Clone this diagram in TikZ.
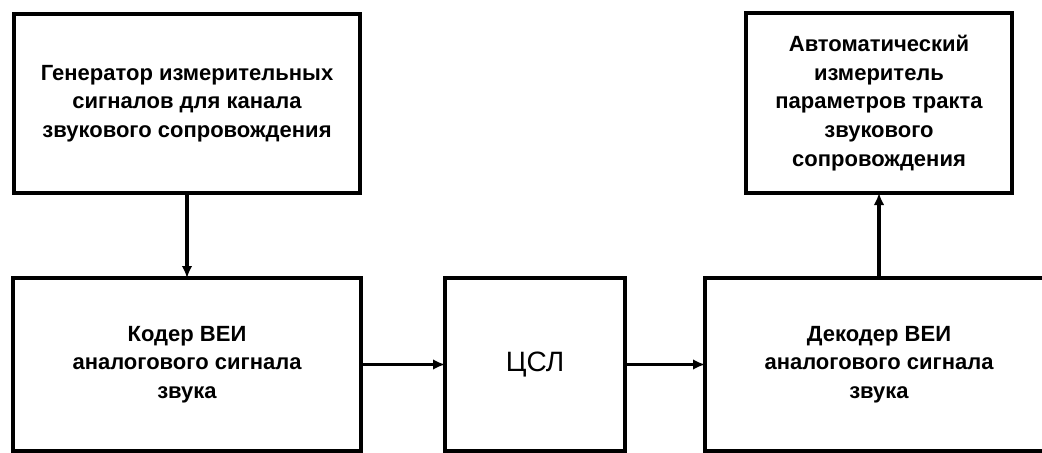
\documentclass[tikz,border=0pt]{standalone}
\usepackage{fontspec}
\setmainfont{Liberation Sans}
\usetikzlibrary{arrows.meta,positioning}

\begin{document}
\begin{tikzpicture}[x=0.75pt,y=-0.75pt,node distance=63.75pt and 63pt,
  box/.style={draw,line width=3pt,outer sep=0pt,align=center,font=\bfseries\fontsize{16.5}{21.5}\selectfont},
  link/.style={->,line width=2.6pt},
  >={Latex[length=9pt,width=8pt]}]
\useasboundingbox (0,0) rectangle (1042,453);
\clip (0,0) rectangle (1042,453);
\node[box,minimum width=259.5pt,minimum height=134.25pt](gen) at (187,103.5){Генератор измерительных\\сигналов для канала\\звукового сопровождения};
\node[box,below=of gen,minimum width=261pt,minimum height=129.75pt](coder){Кодер ВЕИ\\аналогового сигнала\\звука};
\node[box,right=of coder,minimum width=135pt,minimum height=129.75pt,font=\fontsize{21}{25}\selectfont](csl){ЦСЛ};
\node[box,right=60pt of csl,minimum width=261pt,minimum height=129.75pt](decoder){Декодер ВЕИ\\аналогового сигнала\\звука};
\node[box,above=of decoder,minimum width=200pt,minimum height=135pt](aim){Автоматический\\измеритель\\параметров тракта\\звукового\\сопровождения};
\draw[link](gen)--(coder);\draw[link](coder)--(csl);\draw[link](csl)--(decoder);\draw[link](decoder)--(aim);
\end{tikzpicture}
\end{document}
